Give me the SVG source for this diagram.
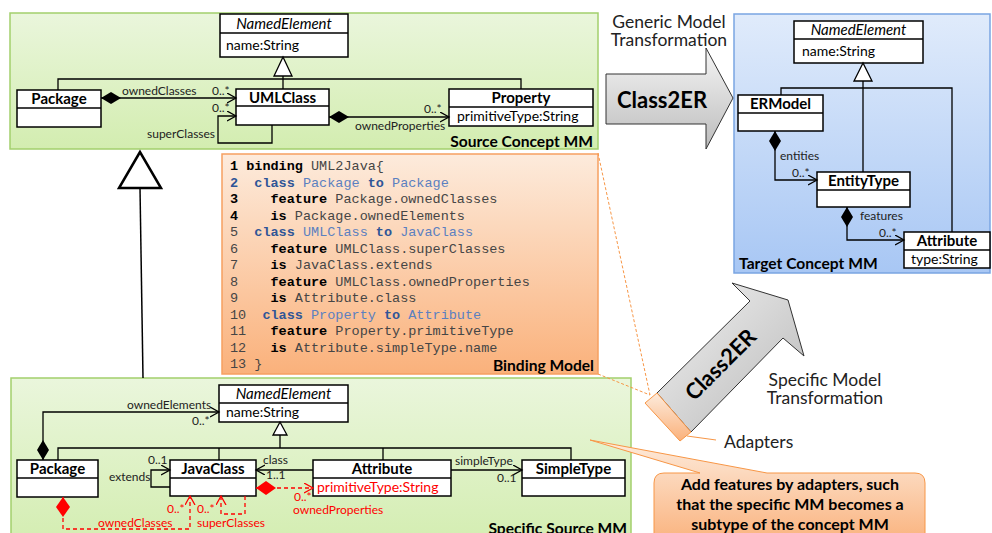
<svg xmlns="http://www.w3.org/2000/svg" width="992" height="533" viewBox="0 0 992 533">
<defs>
<linearGradient id="gGreen" x1="0" y1="0" x2="0" y2="1"><stop offset="0" stop-color="#eaf6dc"/><stop offset="1" stop-color="#d3edb0"/></linearGradient>
<linearGradient id="gBlue" x1="0" y1="0" x2="0" y2="1"><stop offset="0" stop-color="#e0ebfb"/><stop offset="1" stop-color="#a8c7f4"/></linearGradient>
<linearGradient id="gOrange" x1="0" y1="0" x2="0" y2="1"><stop offset="0" stop-color="#fdebdc"/><stop offset="1" stop-color="#fab17b"/></linearGradient>
<linearGradient id="gGray" x1="0" y1="0" x2="0" y2="1"><stop offset="0" stop-color="#f5f5f5"/><stop offset="1" stop-color="#bcbcbc"/></linearGradient>
<linearGradient id="gGrayD" x1="0" y1="0" x2="1" y2="1"><stop offset="0" stop-color="#f2f2f2"/><stop offset="1" stop-color="#b8b8b8"/></linearGradient>
<marker id="arr" markerUnits="userSpaceOnUse" markerWidth="12" markerHeight="12" refX="9" refY="5" orient="auto"><path d="M0,0 L9,5 L0,10" fill="none" stroke="#000" stroke-width="1.3"/></marker>
<marker id="arrR" markerUnits="userSpaceOnUse" markerWidth="12" markerHeight="12" refX="9" refY="5" orient="auto"><path d="M0,0 L9,5 L0,10" fill="none" stroke="#ff0000" stroke-width="1.3"/></marker>
<marker id="dia" markerUnits="userSpaceOnUse" markerWidth="22" markerHeight="14" refX="0" refY="6" orient="auto"><path d="M0,6 L10,0 L20,6 L10,12 Z" fill="#000"/></marker>
<marker id="diaR" markerUnits="userSpaceOnUse" markerWidth="22" markerHeight="16" refX="0" refY="7" orient="auto"><path d="M0,7 L10,0 L20,7 L10,14 Z" fill="#ff0000"/></marker>
</defs>
<style>
text{font-family:Lato,"Liberation Sans",sans-serif;fill:#000}
.box{fill:#fff;stroke:#000;stroke-width:1.5}
.sep{stroke:#000;stroke-width:1.5}
.t{font-weight:bold;font-size:15px;text-anchor:middle}
.ti{font-style:italic;font-size:15px;text-anchor:middle}
.a{font-size:14px}
.lb{font-size:12px;fill:#222}
.red{fill:#ff0000}
.ln{fill:none;stroke:#000;stroke-width:1.3}
.dr{fill:none;stroke:#ff0000;stroke-width:1.3;stroke-dasharray:4,3}
.gen{fill:#fff;stroke:#000;stroke-width:1.3}
.pt{font-weight:bold;font-size:15.6px}
.code{font-family:"Liberation Mono","Courier New",monospace;font-size:13.5px;fill:#454545;white-space:pre}
.kw{font-weight:bold;fill:#000}
.bk{font-weight:bold;fill:#2f5597}
.bi{fill:#5b80c0}
.big{font-size:17.5px;fill:#222}
.call{font-size:16px;font-weight:bold;text-anchor:middle}
</style>

<!-- panels -->
<g id="source-concept-panel"><rect x="10" y="13" width="588" height="136" fill="url(#gGreen)" stroke="#a3cf6c" stroke-width="1.5"/><text class="pt" x="593" y="147" text-anchor="end">Source Concept MM</text></g>
<g id="target-concept-panel"><rect x="734" y="14" width="256" height="259" fill="url(#gBlue)" stroke="#7aa5e2" stroke-width="1.5"/><text class="pt" x="739" y="269">Target Concept MM</text></g>
<g id="specific-source-panel"><rect x="11" y="378" width="620" height="170" fill="url(#gGreen)" stroke="#a3cf6c" stroke-width="1.5"/><text class="pt" x="627" y="534" text-anchor="end">Specific Source MM</text></g>

<!-- binding model -->
<g id="binding-model">
<rect x="222" y="154" width="376" height="220" fill="url(#gOrange)" stroke="#f6a060" stroke-width="1.5"/>
<text class="code" xml:space="preserve" x="230" y="170"><tspan class="kw">1 binding</tspan> UML2Java{</text>
<text class="code" xml:space="preserve" x="230" y="186.5"><tspan class="bk">2  class</tspan><tspan class="bi"> Package </tspan><tspan class="bk">to</tspan><tspan class="bi"> Package</tspan></text>
<text class="code" xml:space="preserve" x="230" y="203"><tspan class="kw">3    feature</tspan> Package.ownedClasses</text>
<text class="code" xml:space="preserve" x="230" y="219.5"><tspan class="kw">4    is</tspan> Package.ownedElements</text>
<text class="code" xml:space="preserve" x="230" y="236">5  <tspan class="bk">class</tspan><tspan class="bi"> UMLClass </tspan><tspan class="bk">to</tspan><tspan class="bi"> JavaClass</tspan></text>
<text class="code" xml:space="preserve" x="230" y="252.5">6    <tspan class="kw">feature</tspan> UMLClass.superClasses</text>
<text class="code" xml:space="preserve" x="230" y="269">7    <tspan class="kw">is</tspan> JavaClass.extends</text>
<text class="code" xml:space="preserve" x="230" y="285.5">8    <tspan class="kw">feature</tspan> UMLClass.ownedProperties</text>
<text class="code" xml:space="preserve" x="230" y="302">9    <tspan class="kw">is</tspan> Attribute.class</text>
<text class="code" xml:space="preserve" x="230" y="318.5">10  <tspan class="bk">class</tspan><tspan class="bi"> Property </tspan><tspan class="bk">to</tspan><tspan class="bi"> Attribute</tspan></text>
<text class="code" xml:space="preserve" x="230" y="335">11   <tspan class="kw">feature</tspan> Property.primitiveType</text>
<text class="code" xml:space="preserve" x="230" y="351.5">12   <tspan class="kw">is</tspan> Attribute.simpleType.name</text>
<text class="code" xml:space="preserve" x="230" y="368">13 }</text>
<text class="pt" x="594" y="371" text-anchor="end">Binding Model</text>
</g>

<!-- source concept nodes -->
<g id="sc-namedelement"><rect class="box" x="220" y="14" width="128" height="43"/><line class="sep" x1="220" y1="33" x2="348" y2="33"/><text class="ti" x="284" y="29">NamedElement</text><text class="a" x="226" y="50">name:String</text></g>
<g id="sc-package"><rect class="box" x="17" y="90" width="84" height="37"/><line class="sep" x1="17" y1="108" x2="101" y2="108"/><text class="t" x="59" y="104">Package</text></g>
<g id="sc-umlclass"><rect class="box" x="236" y="89" width="93" height="36"/><line class="sep" x1="236" y1="106" x2="329" y2="106"/><text class="t" x="282.5" y="103">UMLClass</text></g>
<g id="sc-property"><rect class="box" x="449" y="89" width="144" height="37"/><line class="sep" x1="449" y1="107" x2="593" y2="107"/><text class="t" x="521" y="103">Property</text><text class="a" x="457" y="121">primitiveType:String</text></g>

<!-- target nodes -->
<g id="tc-namedelement"><rect class="box" x="794" y="21" width="129" height="42"/><line class="sep" x1="794" y1="39" x2="923" y2="39"/><text class="ti" x="858.5" y="35">NamedElement</text><text class="a" x="802" y="56">name:String</text></g>
<g id="tc-ermodel"><rect class="box" x="738" y="95" width="85" height="36"/><line class="sep" x1="738" y1="113" x2="823" y2="113"/><text class="t" x="780.5" y="109">ERModel</text></g>
<g id="tc-entitytype"><rect class="box" x="817" y="172" width="93" height="35"/><line class="sep" x1="817" y1="190" x2="910" y2="190"/><text class="t" x="863.5" y="186">EntityType</text></g>
<g id="tc-attribute"><rect class="box" x="904" y="232" width="86" height="36"/><line class="sep" x1="904" y1="250" x2="990" y2="250"/><text class="t" x="947" y="246">Attribute</text><text class="a" x="911" y="264">type:String</text></g>

<!-- specific source nodes -->
<g id="ss-namedelement"><rect class="box" x="219" y="385" width="129" height="37"/><line class="sep" x1="219" y1="403" x2="348" y2="403"/><text class="ti" x="283.5" y="399">NamedElement</text><text class="a" x="226" y="417">name:String</text></g>
<g id="ss-package"><rect class="box" x="17" y="460" width="81" height="37"/><line class="sep" x1="17" y1="478" x2="98" y2="478"/><text class="t" x="57.5" y="474">Package</text></g>
<g id="ss-javaclass"><rect class="box" x="170" y="460" width="86" height="36"/><line class="sep" x1="170" y1="478" x2="256" y2="478"/><text class="t" x="213" y="474">JavaClass</text></g>
<g id="ss-attribute"><rect class="box" x="313" y="460" width="138" height="36"/><line class="sep" x1="313" y1="478" x2="451" y2="478"/><text class="t" x="382" y="474">Attribute</text><text class="a red" x="317" y="492">primitiveType:String</text></g>
<g id="ss-simpletype"><rect class="box" x="522" y="460" width="103" height="36"/><line class="sep" x1="522" y1="478" x2="625" y2="478"/><text class="t" x="573.5" y="474">SimpleType</text></g>

<!-- transformations -->
<g id="generic-transformation">
<text class="big" x="669" y="28" text-anchor="middle">Generic Model</text>
<text class="big" x="669" y="46" text-anchor="middle">Transformation</text>
<polygon points="606,74 706,74 706,48 733,98 706,149 706,124 606,124" fill="url(#gGray)" stroke="#333" stroke-width="1"/>
<text x="662" y="108" font-size="22" font-weight="bold" text-anchor="middle">Class2ER</text>
</g>
<g id="specific-transformation">
<polygon points="657,393 750,301 732,283 788,300 804,356 783,338 691,432" fill="url(#gGrayD)" stroke="#333" stroke-width="1"/>
<text x="722" y="366" font-size="22" font-weight="bold" text-anchor="middle" dominant-baseline="middle" transform="rotate(-45 722 366)">Class2ER</text>
<polygon points="645,403 657,393 691,432 680,441" fill="url(#gOrange)" stroke="#f79646" stroke-width="1"/>
<text class="big" x="825" y="386" text-anchor="middle">Specific Model</text>
<text class="big" x="825" y="404" text-anchor="middle">Transformation</text>
</g>
<g id="adapters-label">
<line x1="687" y1="436" x2="716" y2="440" stroke="#f79646" stroke-width="1"/>
<text class="big" x="724" y="448">Adapters</text>
</g>
<g id="callout">
<path d="M664,473 H700 L590,440 L767,473 H915 Q925,473 925,483 V545 H654 V483 Q654,473 664,473 Z" fill="url(#gOrange)" stroke="#f79646" stroke-width="1"/>
<text class="call" x="790" y="490">Add features by adapters, such</text>
<text class="call" x="790" y="510">that the specific MM becomes a</text>
<text class="call" x="790" y="530">subtype of the concept MM</text>
</g>

<!-- connectors -->
<g id="connectors">
<polygon class="gen" points="283,57 274,76 292,76"/>
<path class="ln" d="M283,76 V89 M58,90 V79 H521 V89"/>
<path class="ln" d="M101,98 H236" marker-start="url(#dia)" marker-end="url(#arr)"/>
<text class="lb" x="122" y="95">ownedClasses</text><text class="lb" x="212" y="95">0..*</text>
<path class="ln" d="M272,125 V143 H218 V116 H236" marker-end="url(#arr)"/>
<text class="lb" x="212" y="112">0..*</text><text class="lb" x="147" y="138">superClasses</text>
<path class="ln" d="M329,117 H449" marker-start="url(#dia)" marker-end="url(#arr)"/>
<text class="lb" x="424" y="113">0..*</text><text class="lb" x="355" y="130">ownedProperties</text>

<polygon points="140,152 119,188 161,188" fill="#fff" stroke="#000" stroke-width="2.5"/>
<line x1="140" y1="188" x2="143" y2="378" stroke="#000" stroke-width="1.5"/>

<polygon class="gen" points="863,63 854,81 872,81"/>
<path class="ln" d="M863,81 V172 M781,95 V88 H952 V232"/>
<path class="ln" d="M775,131 V180 H817" marker-start="url(#dia)" marker-end="url(#arr)"/>
<text class="lb" x="780" y="160">entities</text><text class="lb" x="792" y="177">0..*</text>
<path class="ln" d="M847,207 V240 H904" marker-start="url(#dia)" marker-end="url(#arr)"/>
<text class="lb" x="860" y="220">features</text><text class="lb" x="879" y="237">0..*</text>

<polygon class="gen" points="280,422 273,435 287,435"/>
<path class="ln" d="M280,435 V448 M58,460 V448 H571 V460 M219,448 V460 M383,448 V460"/>
<path class="ln" d="M43,460 V412 H219" marker-start="url(#dia)" marker-end="url(#arr)"/>
<text class="lb" x="127" y="409">ownedElements</text><text class="lb" x="192" y="425">0..*</text>
<path class="ln" d="M170,487 H151 V470 H170" marker-end="url(#arr)"/>
<text class="lb" x="148" y="464">0..1</text><text class="lb" x="109" y="481">extends</text>
<path class="ln" d="M313,470 H256" marker-end="url(#arr)"/>
<text class="lb" x="263" y="464">class</text><text class="lb" x="266" y="479">1..1</text>
<path class="ln" d="M451,470 H522" marker-end="url(#arr)"/>
<text class="lb" x="455" y="465">simpleType</text><text class="lb" x="497" y="482">0..1</text>
<path class="dr" d="M256,488 H313" marker-start="url(#diaR)" marker-end="url(#arrR)"/>
<text class="lb red" x="294" y="501">0..*</text><text class="lb red" x="293" y="514">ownedProperties</text>
<path class="dr" d="M63,497 V529 H190 V496" marker-start="url(#diaR)" marker-end="url(#arrR)"/>
<text class="lb red" x="98" y="527">ownedClasses</text><text class="lb red" x="167" y="513">0..*</text>
<path class="dr" d="M245,496 V514 H221 V496" marker-end="url(#arrR)"/>
<text class="lb red" x="197" y="513">0..*</text><text class="lb red" x="197" y="527">superClasses</text>

<path d="M598,153 L650,395 M598,374 L650,395" fill="none" stroke="#f79646" stroke-width="1" stroke-dasharray="3,2"/>
</g>
</svg>
